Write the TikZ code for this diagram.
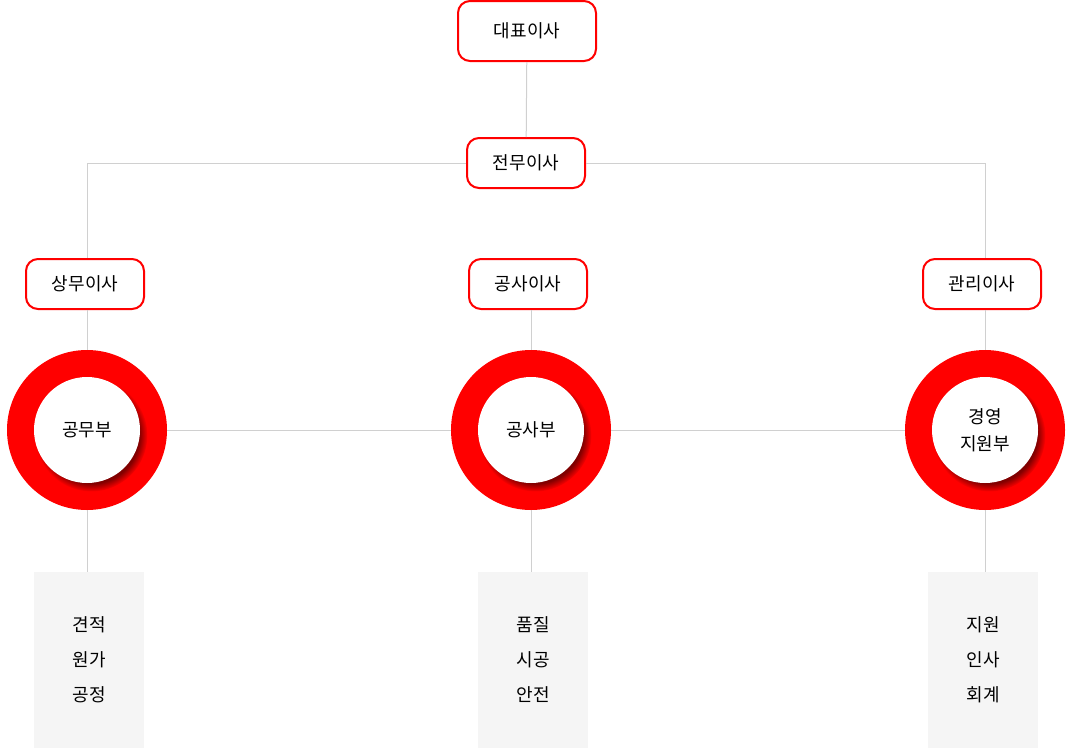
\documentclass[tikz,border=0pt]{standalone}
\usepackage{fontspec}
\setmainfont{Noto Sans CJK KR}
\usepackage{tikz}
\usetikzlibrary{calc,shadows}
\definecolor{orgred}{HTML}{FF0000}
\definecolor{orgline}{HTML}{D0D0D0}
\definecolor{orggrey}{HTML}{F5F5F5}
\tikzset{
  boss/.style={draw=orgred, line width=2pt, rounded corners=12pt, fill=white,
    minimum width=118pt, minimum height=50pt, font=\fontsize{18}{21}\selectfont},
  ring/.style={circle, fill=orgred, minimum size=160pt, inner sep=0pt},
  dept/.style={circle, fill=white, minimum size=106pt, inner sep=0pt, align=center,
    font=\fontsize{18}{27}\selectfont,
    circular drop shadow={shadow xshift=4pt, shadow yshift=-5pt, shadow scale=1.06,
      fill=red!45!black, opacity=.9}},
  task/.style={fill=orggrey, minimum width=110pt, minimum height=176pt, align=center,
    font=\fontsize{18}{35}\selectfont},
  link/.style={draw=orgline, line width=1pt}
}
\begin{document}
\begin{tikzpicture}[x=1pt,y=-1pt]
  \useasboundingbox (0,0) rectangle (1075,750);
  \node[boss, minimum width=138pt, minimum height=60pt] (ceo) at (527,31) {대표이사};
  \node[boss] (jeonmu) at (526,163) {전무이사};
  \draw[link] (ceo) -- (jeonmu);
  % the three columns: ring x / box x / task x
  \foreach \rx/\bx/\tx/\nm/\dir/\dep/\jobs in {
      87/85/89/left/상무이사/공무부/{견적\\원가\\공정},
      531/528/533/mid/공사이사/공사부/{품질\\시공\\안전},
      985/982/983/right/관리이사/{경영\\지원부}/{지원\\인사\\회계}}{
    \node[boss] (\nm-dir) at (\bx,284) {\dir};
    \node[ring] (\nm-ring) at (\rx,430) {};
    \node[dept] (\nm-dept) at (\rx,430) {\dep};
    \node[task] (\nm-task) at (\tx,660) {\jobs};
    \draw[link] (\nm-ring.north) -- (\nm-dir.south -| \nm-ring.north);
    \draw[link] (\nm-ring.south) -- (\nm-task.north -| \nm-ring.south);
  }
  \draw[link] (jeonmu.west) -| (left-ring.north |- left-dir.north);
  \draw[link] (jeonmu.east) -| (right-ring.north |- right-dir.north);
  \draw[link] (left-ring) -- (mid-ring);
  \draw[link] (mid-ring) -- (right-ring);
\end{tikzpicture}
\end{document}
